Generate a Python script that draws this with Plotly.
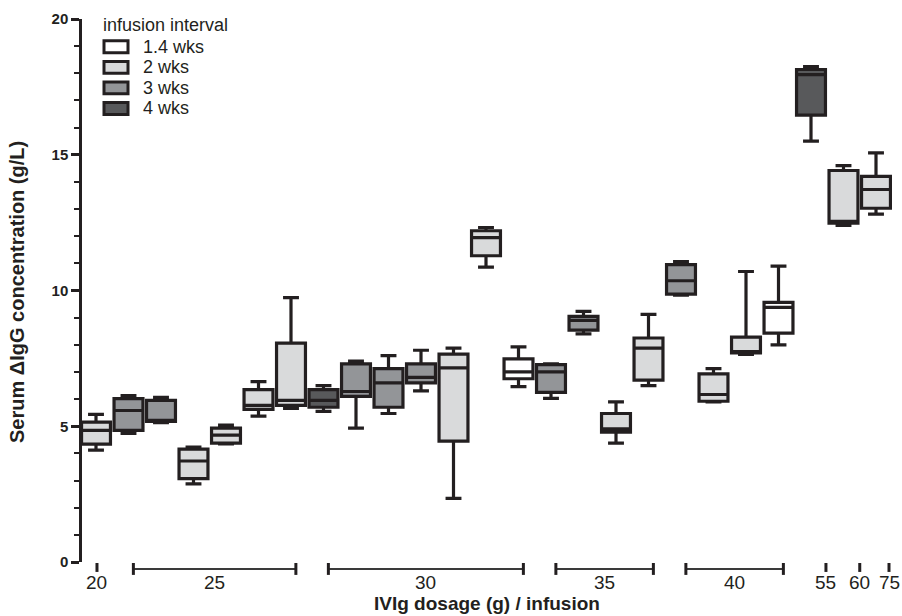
import plotly.graph_objects as go

# ---------------- data ----------------
intervals = ["1.4 wks", "2 wks", "3 wks", "4 wks"]
fill_colors = ["#ffffff", "#d9dadb", "#939598", "#58595b"]

# one entry per box, in left-to-right order
box_interval = ["2 wks", "3 wks", "3 wks",
                "2 wks", "2 wks", "2 wks", "2 wks",
                "4 wks", "3 wks", "3 wks", "3 wks", "2 wks", "2 wks", "1.4 wks",
                "3 wks", "3 wks", "2 wks", "2 wks",
                "3 wks", "2 wks", "2 wks", "1.4 wks",
                "4 wks", "2 wks", "2 wks"]
box_low = [4.12, 4.74, 5.13, 2.88, 4.35, 5.37, 5.66, 5.55, 4.93, 5.47, 6.30, 2.34, 10.86, 6.46,
           6.03, 8.40, 4.38, 6.50, 9.83, 5.90, 7.65, 8.00, 15.50, 12.40, 12.81]
box_q1 = [4.34, 4.85, 5.18, 3.07, 4.38, 5.62, 5.77, 5.70, 6.10, 5.70, 6.60, 4.45, 11.28, 6.75,
          6.25, 8.54, 4.78, 6.70, 9.87, 5.92, 7.70, 8.43, 16.46, 12.48, 13.03]
box_median = [4.85, 5.58, 5.20, 3.72, 4.67, 5.77, 5.95, 5.95, 6.28, 6.60, 6.80, 7.15, 11.95, 7.00,
              7.00, 8.90, 4.90, 7.88, 10.36, 6.17, 7.75, 9.38, 17.95, 12.55, 13.72]
box_q3 = [5.15, 6.02, 5.95, 4.16, 4.93, 6.35, 8.06, 6.35, 7.30, 7.12, 7.30, 7.66, 12.20, 7.48,
          7.27, 9.05, 5.47, 8.25, 10.95, 6.93, 8.28, 9.56, 18.14, 14.42, 14.20]
box_high = [5.44, 6.13, 6.06, 4.23, 5.04, 6.64, 9.74, 6.50, 7.40, 7.60, 7.80, 7.88, 12.32, 7.92,
            7.30, 9.23, 5.90, 9.12, 11.06, 7.12, 10.70, 10.90, 18.25, 14.60, 15.07]

dose_labels = ["20", "25", "30", "35", "40", "55", "60", "75"]
dose_group_sizes = [1, 6, 7, 4, 4, 1, 1, 1]

y_ticks = [0, 5, 10, 15, 20]

# ---------------- style / layout constants ----------------
INK = "#231f20"
FONT = "Arial, Liberation Sans, sans-serif"
W, H = 902, 616
PLOT_L, PLOT_R, PLOT_T, PLOT_B = 82, 892, 15, 562
SLOT_PX = 32.5
FIRST_SLOT_PX = 96
single_tick_shift = {"20": 0.03, "55": 0.46, "60": 0.5, "75": 0.4}
BRACKET_SHIFT = 0.15


def px_x(p):
    return (p - PLOT_L) / (PLOT_R - PLOT_L)


def px_y(p):
    return (PLOT_B - p) / (PLOT_B - PLOT_T)


x_min = (PLOT_L - FIRST_SLOT_PX) / SLOT_PX
x_max = (PLOT_R - FIRST_SLOT_PX) / SLOT_PX

fig = go.Figure()
slots = list(range(len(box_interval)))
for name, col in zip(intervals, fill_colors):
    idx = [i for i in slots if box_interval[i] == name]
    fig.add_trace(go.Box(
        x=[slots[i] for i in idx],
        q1=[box_q1[i] for i in idx],
        median=[box_median[i] for i in idx],
        q3=[box_q3[i] for i in idx],
        lowerfence=[box_low[i] for i in idx],
        upperfence=[box_high[i] for i in idx],
        width=0.89,
        whiskerwidth=0.55,
        fillcolor=col,
        line=dict(color=INK, width=3.2),
        boxpoints=False,
        name=name,
        showlegend=False,
    ))

shapes = []
annotations = []

# dose group brackets / ticks below the plot
start = 0
lab_y = px_y(583)
for lab, n in zip(dose_labels, dose_group_sizes):
    first, last = start, start + n - 1
    start += n
    if n == 1:
        xc = first + single_tick_shift.get(lab, 0)
        shapes.append(dict(type="line", xref="x", yref="paper", x0=xc, x1=xc,
                           y0=px_y(563), y1=px_y(572), line=dict(color=INK, width=3)))
    else:
        x0, x1 = first + BRACKET_SHIFT, last + BRACKET_SHIFT
        xc = (x0 + x1) / 2
        shapes.append(dict(type="line", xref="x", yref="paper", x0=x0, x1=x1,
                           y0=px_y(569), y1=px_y(569), line=dict(color="#3a3a3a", width=2)))
        for xe in (x0, x1):
            shapes.append(dict(type="line", xref="x", yref="paper", x0=xe, x1=xe,
                               y0=px_y(563), y1=px_y(575), line=dict(color=INK, width=3)))
    annotations.append(dict(x=xc, y=lab_y, xref="x", yref="paper", text=lab, showarrow=False,
                            xanchor="center", yanchor="middle",
                            font=dict(family=FONT, size=19, color=INK)))

# manual legend
annotations.append(dict(x=px_x(101), y=px_y(21), xref="paper", yref="paper",
                        text="infusion interval", showarrow=False, xanchor="left",
                        yanchor="middle", font=dict(family=FONT, size=18, color=INK)))
for k, (name, col) in enumerate(zip(intervals, fill_colors)):
    cy = 43 + 20.7 * k
    shapes.append(dict(type="rect", xref="paper", yref="paper",
                       x0=px_x(104), x1=px_x(128), y0=px_y(cy + 6), y1=px_y(cy - 6),
                       fillcolor=col, line=dict(color=INK, width=3)))
    annotations.append(dict(x=px_x(141), y=px_y(cy), xref="paper", yref="paper",
                            text=name, showarrow=False, xanchor="left", yanchor="middle",
                            font=dict(family=FONT, size=18, color=INK)))

# axis titles
annotations.append(dict(x=px_x(17), y=px_y(290), xref="paper", yref="paper",
                        text="<b>Serum \u0394IgG concentration (g/L)</b>", textangle=-90,
                        showarrow=False, xanchor="center", yanchor="middle",
                        font=dict(family=FONT, size=20, color=INK)))
annotations.append(dict(x=px_x(487), y=px_y(604), xref="paper", yref="paper",
                        text="<b>IVIg dosage (g) / infusion</b>",
                        showarrow=False, xanchor="center", yanchor="middle",
                        font=dict(family=FONT, size=19, color=INK)))

fig.update_layout(
    width=W, height=H,
    margin=dict(l=PLOT_L, r=W - PLOT_R, t=PLOT_T, b=H - PLOT_B, pad=0),
    paper_bgcolor="white", plot_bgcolor="white",
    boxmode="overlay",
    showlegend=False,
    shapes=shapes,
    annotations=annotations,
    xaxis=dict(range=[x_min, x_max], visible=False, fixedrange=True),
    yaxis=dict(range=[0, 20], tickvals=y_ticks, ticktext=[str(v) for v in y_ticks],
               ticks="outside", ticklen=8, tickwidth=2.5, tickcolor=INK,
               showline=True, linewidth=2.5, linecolor=INK,
               showgrid=False, zeroline=False,
               minor=dict(dtick=1, ticks="outside", ticklen=5, tickwidth=2, tickcolor=INK),
               tickfont=dict(family=FONT, size=15, color=INK, weight="bold")),
)

fig.write_html("out.html")
